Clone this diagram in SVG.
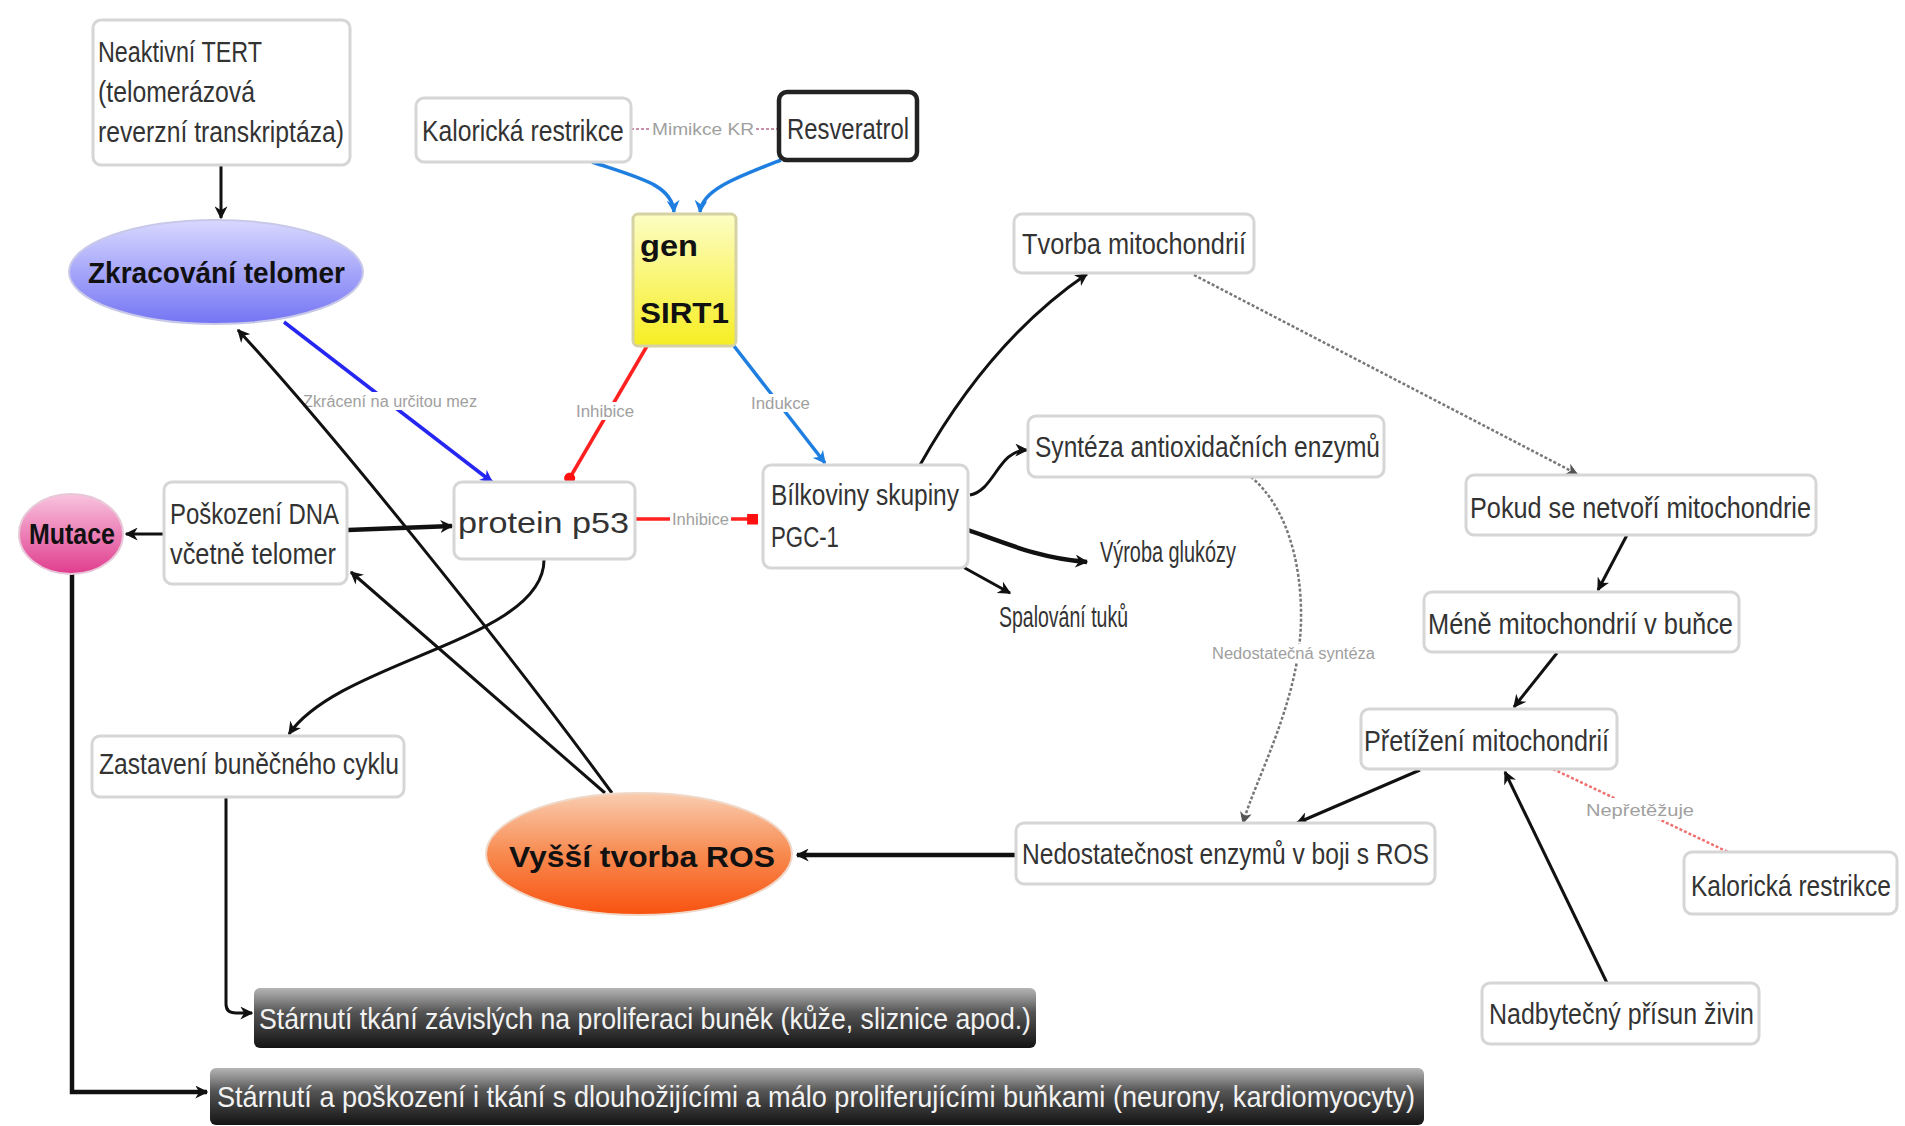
<svg xmlns="http://www.w3.org/2000/svg" width="1905" height="1126" viewBox="0 0 1905 1126">
<style>
.box{fill:#fff;stroke:#d6d6d6;stroke-width:3}
.t{font-family:"Liberation Sans",Arial,sans-serif;font-size:30px;fill:#333}
.b{font-weight:bold;fill:#111}
.lbl{font-family:"Liberation Sans",Arial,sans-serif;font-size:16px;fill:#a0a0a0}
.w{font-family:"Liberation Sans",Arial,sans-serif;font-size:30px;fill:#f2f2f2}
.c{fill:none;stroke:#111;stroke-width:3}
.thick{stroke-width:4.5}
.blue{fill:none;stroke:#1f7fe0;stroke-width:3.5}
.dblue{fill:none;stroke:#2626f2;stroke-width:3.5}
.red{fill:none;stroke:#ff2020;stroke-width:3.5}
.gdot{fill:none;stroke:#777;stroke-width:2.5;stroke-dasharray:3 2}
.rdot{fill:none;stroke:#f07070;stroke-width:2.5;stroke-dasharray:3 2}
.pdot{fill:none;stroke:#c890a8;stroke-width:2;stroke-dasharray:3 2}
.bg{fill:#fff}
</style>
<defs>
<marker id="ab" viewBox="0 0 10 10" refX="9" refY="5" markerWidth="13" markerHeight="13" markerUnits="userSpaceOnUse" orient="auto"><path d="M0,0 L10,5 L0,10 L3,5 z" fill="#111"/></marker>
<marker id="abl" viewBox="0 0 10 10" refX="9" refY="5" markerWidth="13" markerHeight="13" markerUnits="userSpaceOnUse" orient="auto"><path d="M0,0 L10,5 L0,10 L3,5 z" fill="#1f7fe0"/></marker>
<marker id="adb" viewBox="0 0 10 10" refX="9" refY="5" markerWidth="13" markerHeight="13" markerUnits="userSpaceOnUse" orient="auto"><path d="M0,0 L10,5 L0,10 L3,5 z" fill="#2626f2"/></marker>
<marker id="ag" viewBox="0 0 10 10" refX="9" refY="5" markerWidth="12" markerHeight="12" markerUnits="userSpaceOnUse" orient="auto"><path d="M0,0 L10,5 L0,10 L3,5 z" fill="#555"/></marker>
<marker id="rsq" viewBox="0 0 10 10" refX="9" refY="5" markerWidth="11" markerHeight="11" markerUnits="userSpaceOnUse" orient="auto"><rect x="0" y="0" width="10" height="10" fill="#ff1010"/></marker>
<marker id="rdot" viewBox="0 0 10 10" refX="8" refY="5" markerWidth="11" markerHeight="11" markerUnits="userSpaceOnUse" orient="auto"><circle cx="5" cy="5" r="5" fill="#ff1010"/></marker>
<linearGradient id="gBlue" x1="0" y1="0" x2="0" y2="1"><stop offset="0" stop-color="#d8d8ff"/><stop offset="1" stop-color="#7474f4"/></linearGradient>
<linearGradient id="gPink" x1="0" y1="0" x2="0" y2="1"><stop offset="0" stop-color="#f8c4de"/><stop offset="1" stop-color="#e03c8e"/></linearGradient>
<linearGradient id="gOrange" x1="0" y1="0" x2="0" y2="1"><stop offset="0" stop-color="#f9cdb0"/><stop offset="0.5" stop-color="#f88a50"/><stop offset="1" stop-color="#f85210"/></linearGradient>
<linearGradient id="gYellow" x1="0" y1="0" x2="0" y2="1"><stop offset="0" stop-color="#fdfdc4"/><stop offset="1" stop-color="#f6ee22"/></linearGradient>
<linearGradient id="gDark" x1="0" y1="0" x2="0" y2="1"><stop offset="0" stop-color="#b4b4b4"/><stop offset="0.18" stop-color="#8c8c8c"/><stop offset="0.4" stop-color="#555"/><stop offset="1" stop-color="#141414"/></linearGradient>
</defs>

<g id="connectors">
  <path class="c" d="M221,165 L221,218" marker-end="url(#ab)"/>
  <path class="blue" d="M592,162 C640,178 672,185 674,212" marker-end="url(#abl)"/>
  <path class="blue" d="M781,160 C735,178 702,190 700,212" marker-end="url(#abl)"/>
  <path class="pdot" d="M631,129 L650,129"/>
  <path class="pdot" d="M756,129 L779,129"/>
  <text class="lbl" x="652" y="135" font-size="19" textLength="102" lengthAdjust="spacingAndGlyphs">Mimikce KR</text>
  <path class="red" d="M647,346 L568,481" marker-end="url(#rdot)"/>
  <rect class="bg" x="574" y="402" width="62" height="18"/>
  <text class="lbl" x="576" y="417" textLength="58" lengthAdjust="spacingAndGlyphs">Inhibice</text>
  <path class="blue" d="M734,346 L825,463" marker-end="url(#abl)"/>
  <rect class="bg" x="749" y="394" width="63" height="18"/>
  <text class="lbl" x="751" y="409" textLength="59" lengthAdjust="spacingAndGlyphs">Indukce</text>
  <path class="dblue" d="M284,322 L492,482" marker-end="url(#adb)"/>
  <rect class="bg" x="301" y="392" width="178" height="18"/>
  <text class="lbl" x="303" y="407" textLength="174" lengthAdjust="spacingAndGlyphs">Zkrácení na určitou mez</text>
  <path class="red" d="M636,519 L757,519" marker-end="url(#rsq)"/>
  <rect class="bg" x="670" y="510" width="61" height="18"/>
  <text class="lbl" x="672" y="525" textLength="57" lengthAdjust="spacingAndGlyphs">Inhibice</text>
  <path class="c" d="M164,534 L126,534" marker-end="url(#ab)"/>
  <path class="c thick" d="M348,530 L452,526" marker-end="url(#ab)"/>
  <path class="c" d="M612,793 C500,640 330,430 238,330" marker-end="url(#ab)"/>
  <path class="c" d="M605,793 L351,572" marker-end="url(#ab)"/>
  <path class="c" d="M544,560 C544,640 340,660 289,734" marker-end="url(#ab)"/>
  <path class="c" d="M226,797 L226,1004 Q226,1013 236,1013 L252,1013" marker-end="url(#ab)"/>
  <path class="c thick" d="M72,573 L72,1092 L207,1092" marker-end="url(#ab)"/>
  <path class="c" d="M920,465 Q990,340 1087,274" marker-end="url(#ab)"/>
  <path class="c" d="M970,495 C995,490 998,450 1027,450" marker-end="url(#ab)"/>
  <path class="c thick" d="M968,530 C1010,545 1040,558 1087,562" marker-end="url(#ab)"/>
  <path class="c" d="M963,567 L1010,593" marker-end="url(#ab)"/>
  <path class="gdot" d="M1194,275 L1577,474" marker-end="url(#ag)"/>
  <path class="gdot" d="M1251,477 C1285,505 1302,560 1301,620 C1300,700 1255,780 1243,823" marker-end="url(#ag)"/>
  <rect class="bg" x="1210" y="644" width="166" height="18"/>
  <text class="lbl" x="1212" y="659" textLength="163" lengthAdjust="spacingAndGlyphs">Nedostatečná syntéza</text>
  <path class="c" d="M1627,535 L1598,590" marker-end="url(#ab)"/>
  <path class="c" d="M1557,653 L1514,707" marker-end="url(#ab)"/>
  <path class="c" d="M1420,770 L1297,823" marker-end="url(#ab)"/>
  <path class="c" d="M1607,983 L1505,772" marker-end="url(#ab)"/>
  <path class="rdot" d="M1553,769 L1728,852"/>
  <rect class="bg" x="1584" y="798" width="112" height="22"/>
  <text class="lbl" x="1586" y="816" font-size="20" textLength="108" lengthAdjust="spacingAndGlyphs">Nepřetěžuje</text>
  <path class="c thick" d="M1016,855 L797,855" marker-end="url(#ab)"/>
</g>

<g id="n-tert"><rect class="box" x="93" y="20" width="257" height="145" rx="8"/>
  <text class="t" x="98" y="62" textLength="164" lengthAdjust="spacingAndGlyphs">Neaktivní TERT</text>
  <text class="t" x="98" y="102" textLength="157" lengthAdjust="spacingAndGlyphs">(telomerázová</text>
  <text class="t" x="98" y="142" textLength="246" lengthAdjust="spacingAndGlyphs">reverzní transkriptáza)</text></g>
<g id="n-zkracovani"><ellipse cx="216" cy="272" rx="147" ry="52" fill="url(#gBlue)" stroke="#c8c8e8" stroke-width="2"/>
  <text class="t b" x="88" y="283" font-size="31" textLength="257" lengthAdjust="spacingAndGlyphs">Zkracování telomer</text></g>
<g id="n-kaloricka1"><rect class="box" x="416" y="98" width="215" height="64" rx="8"/>
  <text class="t" transform="translate(422,141) scale(0.824,1)" x="0" y="0">Kalorická restrikce</text></g>
<g id="n-resveratrol"><rect x="779" y="92" width="138" height="68" rx="8" fill="#fff" stroke="#222" stroke-width="4.5"/>
  <text class="t" x="787" y="139" textLength="122" lengthAdjust="spacingAndGlyphs">Resveratrol</text></g>
<g id="n-sirt1"><rect x="633" y="214" width="103" height="132" rx="5" fill="url(#gYellow)" stroke="#d6d2a4" stroke-width="3"/>
  <text class="t b" x="640" y="256" font-size="40" textLength="58" lengthAdjust="spacingAndGlyphs">gen</text>
  <text class="t b" x="640" y="323" font-size="40" textLength="89" lengthAdjust="spacingAndGlyphs">SIRT1</text></g>
<g id="n-tvorba"><rect class="box" x="1014" y="214" width="240" height="59" rx="8"/>
  <text class="t" x="1022" y="254" textLength="224" lengthAdjust="spacingAndGlyphs">Tvorba mitochondrií</text></g>
<g id="n-synteza"><rect class="box" x="1028" y="416" width="356" height="61" rx="8"/>
  <text class="t" x="1035" y="457" textLength="345" lengthAdjust="spacingAndGlyphs">Syntéza antioxidačních enzymů</text></g>
<g id="n-pgc1"><rect class="box" x="763" y="465" width="205" height="103" rx="8"/>
  <text class="t" x="771" y="505" textLength="188" lengthAdjust="spacingAndGlyphs">Bílkoviny skupiny</text>
  <text class="t" x="771" y="547" textLength="68" lengthAdjust="spacingAndGlyphs">PGC-1</text></g>
<g id="n-p53"><rect class="box" x="454" y="482" width="181" height="77" rx="8"/>
  <text class="t" x="458" y="533" font-size="40" textLength="171" lengthAdjust="spacingAndGlyphs">protein p53</text></g>
<g id="n-poskozeni"><rect class="box" x="164" y="482" width="183" height="102" rx="8"/>
  <text class="t" x="170" y="524" textLength="169" lengthAdjust="spacingAndGlyphs">Poškození DNA</text>
  <text class="t" x="170" y="564" textLength="166" lengthAdjust="spacingAndGlyphs">včetně telomer</text></g>
<g id="n-mutace"><ellipse cx="71" cy="534" rx="52" ry="40" fill="url(#gPink)" stroke="#e8c8d8" stroke-width="2"/>
  <text class="t b" x="29" y="544" font-size="27" textLength="86" lengthAdjust="spacingAndGlyphs">Mutace</text></g>
<g id="n-vyroba"><text class="t" x="1100" y="562" font-size="21" textLength="136" lengthAdjust="spacingAndGlyphs">Výroba glukózy</text></g>
<g id="n-spalovani"><text class="t" x="999" y="627" font-size="21" textLength="129" lengthAdjust="spacingAndGlyphs">Spalování tuků</text></g>
<g id="n-zastaveni"><rect class="box" x="92" y="736" width="312" height="61" rx="8"/>
  <text class="t" x="99" y="774" textLength="300" lengthAdjust="spacingAndGlyphs">Zastavení buněčného cyklu</text></g>
<g id="n-ros"><ellipse cx="639" cy="854" rx="153" ry="61" fill="url(#gOrange)" stroke="#f0d8c8" stroke-width="2"/>
  <text class="t b" x="509" y="867" font-size="40" textLength="266" lengthAdjust="spacingAndGlyphs">Vyšší tvorba ROS</text></g>
<g id="n-nedostatecnost"><rect class="box" x="1016" y="823" width="419" height="61" rx="8"/>
  <text class="t" x="1022" y="864" textLength="407" lengthAdjust="spacingAndGlyphs">Nedostatečnost enzymů v boji s ROS</text></g>
<g id="n-pokud"><rect class="box" x="1466" y="475" width="350" height="60" rx="8"/>
  <text class="t" x="1470" y="518" textLength="341" lengthAdjust="spacingAndGlyphs">Pokud se netvoří mitochondrie</text></g>
<g id="n-mene"><rect class="box" x="1424" y="592" width="315" height="60" rx="8"/>
  <text class="t" x="1428" y="634" textLength="305" lengthAdjust="spacingAndGlyphs">Méně mitochondrií v buňce</text></g>
<g id="n-pretizeni"><rect class="box" x="1361" y="709" width="256" height="60" rx="8"/>
  <text class="t" x="1364" y="751" textLength="245" lengthAdjust="spacingAndGlyphs">Přetížení mitochondrií</text></g>
<g id="n-kaloricka2"><rect class="box" x="1684" y="852" width="213" height="62" rx="8"/>
  <text class="t" transform="translate(1691,896) scale(0.816,1)" x="0" y="0">Kalorická restrikce</text></g>
<g id="n-nadbytecny"><rect class="box" x="1482" y="983" width="277" height="61" rx="8"/>
  <text class="t" x="1489" y="1024" textLength="265" lengthAdjust="spacingAndGlyphs">Nadbytečný přísun živin</text></g>
<g id="n-starnuti1"><rect x="254" y="988" width="782" height="60" rx="6" fill="url(#gDark)"/>
  <text class="w" x="259" y="1029" textLength="772" lengthAdjust="spacingAndGlyphs">Stárnutí tkání závislých na proliferaci buněk (kůže, sliznice apod.)</text></g>
<g id="n-starnuti2"><rect x="210" y="1068" width="1214" height="57" rx="6" fill="url(#gDark)"/>
  <text class="w" x="217" y="1107" textLength="1198" lengthAdjust="spacingAndGlyphs">Stárnutí a poškození i tkání s dlouhožijícími a málo proliferujícími buňkami (neurony, kardiomyocyty)</text></g>
</svg>
